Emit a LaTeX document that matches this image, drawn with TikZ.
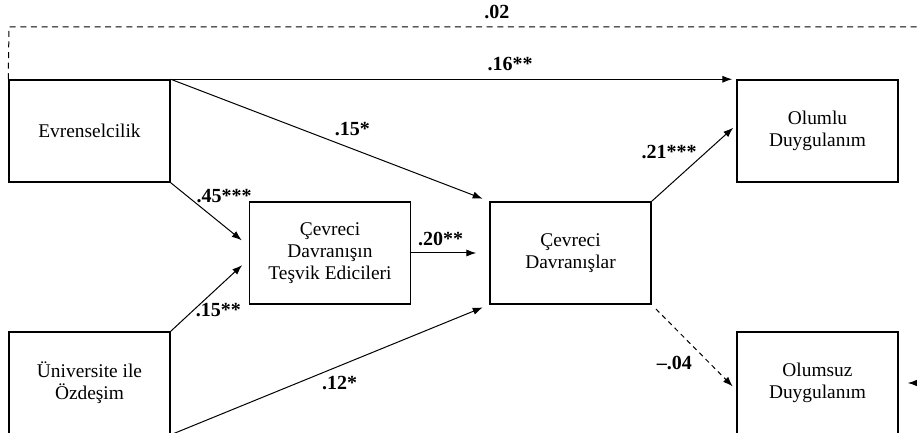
\documentclass[tikz,border=0pt]{standalone}
\usepackage{fontspec}
\setmainfont{Liberation Serif}
\usetikzlibrary{arrows.meta,positioning}
\tikzset{>=latex}

\begin{document}
\begin{tikzpicture}[x=0.5pt, y=-0.5pt,
        >={Latex[length=5pt,width=3.6pt]},
        every node/.append style={align=center},
        box/.style={draw, line width=.75pt, minimum width=80.5pt, minimum height=51pt,
                    inner sep=1pt, font=\fontsize{9.7}{10.9}\selectfont},
        lab/.style={inner sep=1pt, font=\fontsize{10}{12}\selectfont\bfseries},
        link/.style={->, line width=.5pt, shorten >=4.5pt},
        dlink/.style={link, dash pattern=on 3pt off 2.3pt}]

    \path[use as bounding box, clip] (0,0) rectangle (917,433);

    \node[box] (evr)     at (89.5,131)  {Evrenselcilik};
    \node[box] (univ)    at (89.5,383)  {Üniversite ile\\Özdeşim};
    \node[box] (tesvik)  at (330,253)   {Çevreci\\Davranışın\\Teşvik Edicileri};
    \node[box] (davr)    at (570.5,253) {Çevreci\\Davranışlar};
    \node[box] (olumlu)  at (817.5,131) {Olumlu\\Duygulanım};
    \node[box] (olumsuz) at (817.5,383) {Olumsuz\\Duygulanım};

    % dashed direct path, runs round the top
    \coordinate (tl) at (9,27);
    \coordinate (tr) at (940,27);
    \coordinate (rr) at (940,383);
    \draw[dlink] (evr.north west) -- (tl)
        -- node[lab, pos=.524, above=2.75pt] {.02} (tr) -- (rr) -- (olumsuz.east);

    \draw[link, shorten >=2pt] (evr.north east)
        -- node[lab, pos=.6, above=2.75pt] {.16**} (olumlu.north west);
    \draw[link, shorten >=3.5pt] (evr.north east)
        -- node[lab, pos=.57, above=5.25pt] {.15*} (davr.north west);
    \draw[link] (evr.south east)
        -- node[lab, pos=.3, anchor=south west, yshift=-2pt] {.45***} ([yshift=3.5pt]tesvik.west);
    \draw[link] (univ.north east)
        -- node[lab, pos=.29, anchor=west] {.15**} ([yshift=-3pt]tesvik.west);
    \draw[link, shorten >=6.5pt] (tesvik.east)
        -- node[lab, pos=.375, above=2.25pt] {.20**} (davr.west);
    \draw[link, shorten >=3.5pt] (univ.south east)
        -- node[lab, pos=.53, below=3.75pt] {.12*} (davr.south west);
    \draw[link, shorten >=2pt] (davr.north east)
        -- node[lab, pos=.56, anchor=south east, yshift=-1.5pt] {.21***} ([yshift=3pt]olumlu.west);
    \draw[dlink, dash pattern=on 2.4pt off 2pt, shorten <=3pt, shorten >=2.5pt] (davr.south east)
        -- node[lab, pos=.58, anchor=north east, xshift=-3.25pt] {--.04} ([yshift=-3.5pt]olumsuz.west);
\end{tikzpicture}
\end{document}
